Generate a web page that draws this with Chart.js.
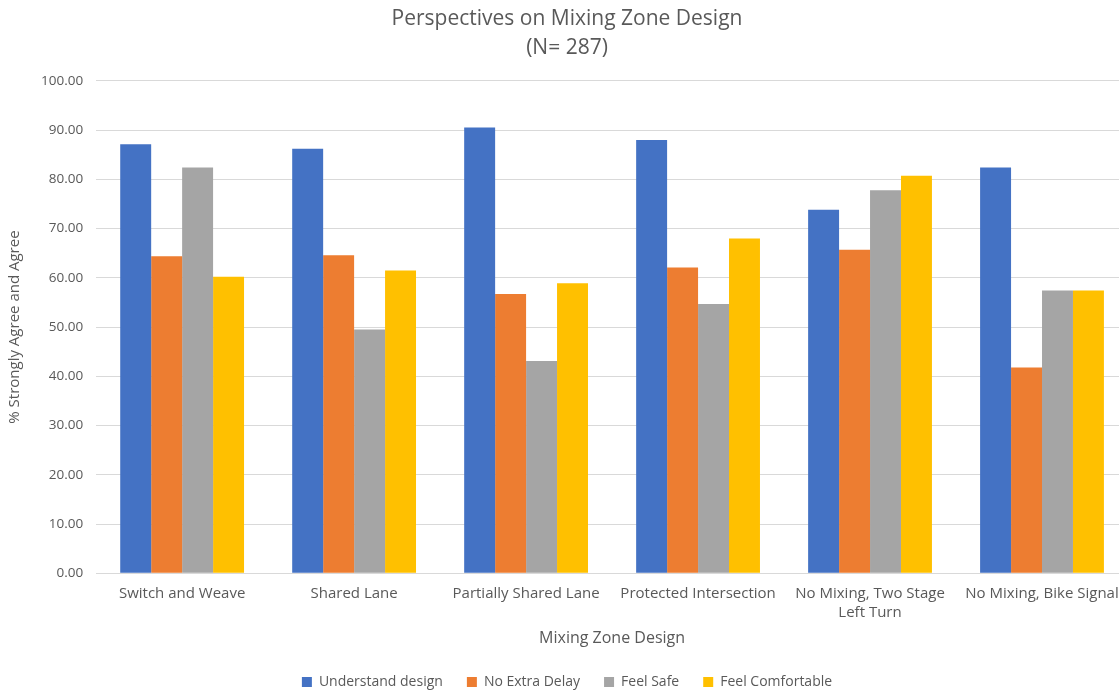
<!DOCTYPE html>
<html><head><meta charset="utf-8">
<script src="https://cdn.jsdelivr.net/npm/chart.js@4/dist/chart.umd.min.js"></script>
<style>
html,body{margin:0;padding:0;background:#fff;overflow:hidden;}
#wrap{width:1132px;height:699px;position:relative;}
</style></head><body>
<div id="wrap"><canvas id="c"></canvas></div>
<script>
const categories = ["Switch and Weave","Shared Lane","Partially Shared Lane","Protected Intersection",["No Mixing, Two Stage","Left Turn"],"No Mixing, Bike Signal"];
const understandDesign = [87.1, 86.2, 90.5, 88.0, 73.8, 82.4];
const noExtraDelay = [64.4, 64.6, 56.7, 62.1, 65.7, 41.8];
const feelSafe = [82.4, 49.5, 43.1, 54.7, 77.8, 57.4];
const feelComfortable = [60.2, 61.5, 58.9, 68.0, 80.7, 57.4];
const seriesNames = ["Understand design","No Extra Delay","Feel Safe","Feel Comfortable"];
const colors = ["#4472C4","#ED7D31","#A5A5A5","#FFC000"];
const FONT = "'Open Sans',sans-serif";
const grey = "#595959";

new Chart(document.getElementById('c'), {
  type: 'bar',
  data: {
    labels: categories,
    datasets: [understandDesign, noExtraDelay, feelSafe, feelComfortable].map((d,i)=>({
      label: seriesNames[i], data: d, backgroundColor: colors[i],
      categoryPercentage: 0.72, barPercentage: 1.0, borderWidth: 0
    }))
  },
  options: {
    responsive: true, maintainAspectRatio: false, animation: false,
    layout: { padding: { left: 6, right: 4, top: 4, bottom: 0 } },
    plugins: {
      title: { display: true, text: ["Perspectives on Mixing Zone Design","(N= 287)"],
        color: grey, font: { family: FONT, size: 21, weight: 'normal', lineHeight: 1.4 }, padding: { top: 0, bottom: 18 } },
      legend: { position: 'bottom', labels: { color: grey, font: { family: FONT, size: 14 }, boxWidth: 10, boxHeight: 10, padding: 24 } },
      tooltip: { enabled: false }
    },
    scales: {
      x: {
        grid: { display: false },
        border: { color: '#d9d9d9' },
        ticks: { color: grey, font: { family: FONT, size: 15, lineHeight: 1.25 }, maxRotation: 0, autoSkip: false, padding: 3 },
        title: { display: true, text: "Mixing Zone Design", color: grey, font: { family: FONT, size: 16 }, padding: { top: 4, bottom: 3 } }
      },
      y: {
        min: 0, max: 100,
        grid: { color: '#d9d9d9', drawTicks: false },
        border: { display: false },
        ticks: { stepSize: 10, color: grey, font: { family: FONT, size: 13.5 }, padding: 13, callback: v => v.toFixed(2) },
        title: { display: true, text: "% Strongly Agree and Agree", color: grey, font: { family: FONT, size: 15 }, padding: { top: 0, bottom: 4 } }
      }
    }
  }
});
</script>
</body></html>
